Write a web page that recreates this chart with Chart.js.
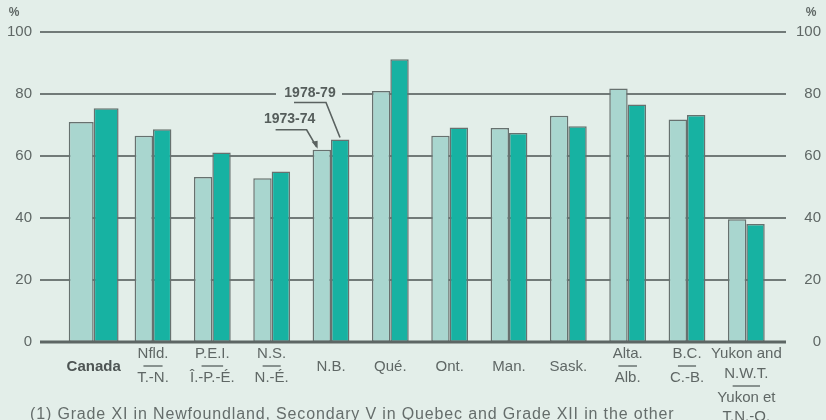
<!DOCTYPE html>
<html><head><meta charset="utf-8">
<script src="https://cdn.jsdelivr.net/npm/chart.js@4/dist/chart.umd.min.js"></script>
<style>
html,body{margin:0;padding:0;background:#e3eee9;}
#wrap{position:relative;width:826px;height:420px;overflow:hidden;background:#e3eee9;}
canvas{display:block;position:absolute;left:0;top:0;}
#note{position:absolute;left:30px;top:405px;font:16px "Liberation Sans",Arial,sans-serif;letter-spacing:0.85px;color:#656d6b;white-space:nowrap;}
</style></head><body>
<div id="wrap"><canvas id="c" width="826" height="420"></canvas>
<div id="note">(1) Grade XI in Newfoundland, Secondary V in Quebec and Grade XII in the other</div></div>
<script>
const categories = ['Canada','Nfld.','P.E.I.','N.S.','N.B.','Qué.','Ont.','Man.','Sask.','Alta.','B.C.','Yukon and N.W.T.'];
const labelsEnglish = [['Canada'],['Nfld.'],['P.E.I.'],['N.S.'],['N.B.'],['Qué.'],['Ont.'],['Man.'],['Sask.'],['Alta.'],['B.C.'],['Yukon and','N.W.T.']];
const labelsFrench = [[],['T.-N.'],['Î.-P.-É.'],['N.-É.'],[],[],[],[],[],['Alb.'],['C.-B.'],['Yukon et','T.N.-O.']];
const values1973 = [71.0, 66.5, 53.2, 52.8, 62.0, 81.0, 66.5, 69.0, 73.0, 81.8, 71.8, 39.6];
const values1978 = [75.4, 68.6, 61.1, 55.0, 65.3, 91.2, 69.2, 67.4, 69.6, 76.6, 73.2, 38.1];
const yTicks = [0, 20, 40, 60, 80, 100];
const seriesNames = ['1973-74', '1978-79'];

const BG = '#e3eee9', LIGHT = '#a9d6cf', DARK = '#17b2a2', EDGE = '#67716f', GRID = '#717a78', TXT = '#5f6765';
const FONT = '"Liberation Sans", Arial, sans-serif';

const canadaOnly = arr => arr.map((v, i) => i === 0 ? v : null);
const provincesOnly = arr => arr.map((v, i) => i === 0 ? null : v);

const deco = {
  id: 'deco',
  beforeDatasetsDraw(chart) {
    const ctx = chart.ctx, y = chart.scales.y;
    ctx.save();
    ctx.strokeStyle = GRID; ctx.lineWidth = 2;
    yTicks.forEach(t => {
      if (t === 0) return;
      const py = Math.round(y.getPixelForValue(t));
      ctx.beginPath(); ctx.moveTo(40, py); ctx.lineTo(786, py); ctx.stroke();
    });
    const dark = chart.getDatasetMeta(3).data[4];
    ctx.fillStyle = BG;
    ctx.fillRect(dark.x - dark.width / 2 - 55, dark.y - 53, 66, 14);
    ctx.restore();
  },
  afterDatasetsDraw(chart) {
    const ctx = chart.ctx, y = chart.scales.y;
    ctx.save();
    const py0 = Math.round(y.getPixelForValue(0));
    ctx.strokeStyle = '#5d6664'; ctx.lineWidth = 3;
    ctx.beginPath(); ctx.moveTo(40, py0); ctx.lineTo(786, py0); ctx.stroke();
    const light = chart.getDatasetMeta(2).data[4];
    const dark = chart.getDatasetMeta(3).data[4];
    const lLeft = light.x - light.width / 2, lTop = light.y;
    const dLeft = dark.x - dark.width / 2, dTop = dark.y;
    ctx.strokeStyle = '#5a6260'; ctx.lineWidth = 1.6;
    ctx.beginPath();
    ctx.moveTo(lLeft - 37, lTop - 20); ctx.lineTo(lLeft - 6, lTop - 20); ctx.lineTo(lLeft + 4, lTop - 3);
    ctx.stroke();
    ctx.fillStyle = '#5a6260';
    ctx.beginPath();
    ctx.moveTo(lLeft + 5, lTop - 1); ctx.lineTo(lLeft - 1, lTop - 8); ctx.lineTo(lLeft + 5, lTop - 9); ctx.closePath(); ctx.fill();
    ctx.beginPath();
    ctx.moveTo(dLeft - 37, dTop - 37); ctx.lineTo(dLeft - 5, dTop - 37); ctx.lineTo(dLeft + 9, dTop - 2);
    ctx.stroke();
    ctx.fillStyle = '#555d5b';
    ctx.font = 'bold 14px ' + FONT;
    ctx.textAlign = 'center'; ctx.textBaseline = 'middle';
    ctx.fillText(seriesNames[0], lLeft - 23, lTop - 31);
    ctx.fillText(seriesNames[1], dLeft - 21, dTop - 46);
    ctx.restore();
  },
  afterDraw(chart) {
    const ctx = chart.ctx, x = chart.scales.x, y = chart.scales.y;
    ctx.save();
    ctx.fillStyle = TXT;
    ctx.font = '15px ' + FONT;
    ctx.textBaseline = 'middle';
    yTicks.forEach(t => {
      const py = y.getPixelForValue(t);
      ctx.textAlign = 'right'; ctx.fillText(String(t), 32, py);
      ctx.textAlign = 'right'; ctx.fillText(String(t), 821, py);
    });
    ctx.font = 'bold 12px ' + FONT; ctx.textAlign = 'center';
    ctx.fillText('%', 14, 13); ctx.fillText('%', 811, 13);
    categories.forEach((c, i) => {
      const px = x.getPixelForValue(i);
      const en = labelsEnglish[i], fr = labelsFrench[i];
      ctx.textAlign = 'center';
      if (i === 0) { ctx.font = 'bold 15px ' + FONT; ctx.fillStyle = '#4d5453'; }
      else { ctx.font = '15px ' + FONT; ctx.fillStyle = TXT; }
      if (fr.length === 0) {
        ctx.fillText(en[0], px, 367);
        return;
      }
      let py = 354;
      en.forEach((s, k) => { if (k > 0) py += 20; ctx.fillText(s, px, py); });
      const w = ctx.measureText(en[en.length - 1]).width * 0.62;
      py += 12;
      ctx.strokeStyle = GRID; ctx.lineWidth = 1.6;
      ctx.beginPath(); ctx.moveTo(px - w / 2, py); ctx.lineTo(px + w / 2, py); ctx.stroke();
      py += 12;
      fr.forEach((s, k) => { if (k > 0) py += 19; ctx.fillText(s, px, py); });
    });
    ctx.restore();
  }
};

const common = { borderColor: EDGE, borderWidth: 1.5, borderSkipped: false, barPercentage: 1, skipNull: true };

new Chart(document.getElementById('c'), {
  type: 'bar',
  data: {
    labels: categories,
    datasets: [
      Object.assign({ label: seriesNames[0], data: canadaOnly(values1973), backgroundColor: LIGHT, categoryPercentage: 0.84 }, common),
      Object.assign({ label: seriesNames[1], data: canadaOnly(values1978), backgroundColor: DARK, categoryPercentage: 0.84 }, common),
      Object.assign({ label: seriesNames[0], data: provincesOnly(values1973), backgroundColor: LIGHT, categoryPercentage: 0.62 }, common),
      Object.assign({ label: seriesNames[1], data: provincesOnly(values1978), backgroundColor: DARK, categoryPercentage: 0.62 }, common)
    ]
  },
  options: {
    responsive: false, animation: false, devicePixelRatio: 1,
    layout: { padding: { left: 64, right: 50, top: 32, bottom: 78 } },
    plugins: { legend: { display: false }, tooltip: { enabled: false } },
    scales: {
      x: { display: false, grid: { display: false } },
      y: { display: false, min: 0, max: 100 }
    }
  },
  plugins: [deco]
});
</script>
</body></html>
